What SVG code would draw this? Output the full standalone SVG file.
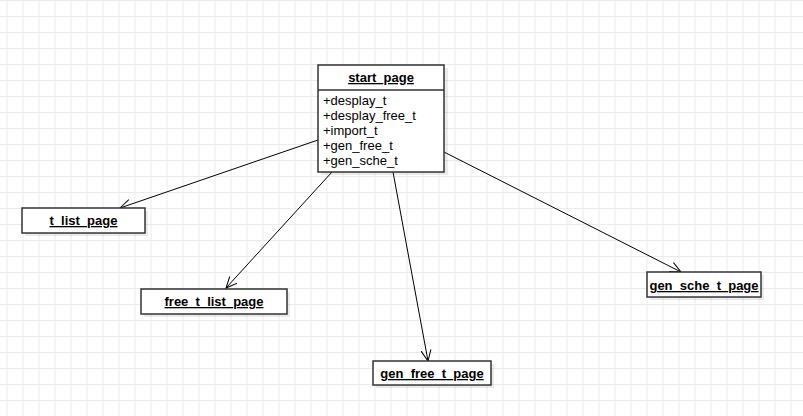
<svg xmlns="http://www.w3.org/2000/svg" width="803" height="416" viewBox="0 0 803 416">
<defs>
<pattern id="grid" x="6.5" y="0" width="16" height="16" patternUnits="userSpaceOnUse">
<path d="M0.5 0 V16 M0 0.5 H16" stroke="#ebebeb" stroke-width="1" fill="none"/>
</pattern>
<marker id="open" viewBox="0 0 12 12" refX="11" refY="6" markerWidth="12" markerHeight="12" markerUnits="userSpaceOnUse" orient="auto">
<path d="M0 1 L11 6 L0 11" fill="none" stroke="#000" stroke-width="1"/>
</marker>
</defs>
<style>
.box{fill:#fff;stroke:#333;stroke-width:1.5}
.shadow{fill:#000;opacity:0.08}
.title{font-family:"Liberation Sans",Arial,sans-serif;font-size:13px;font-weight:bold;text-decoration:underline;fill:#000;text-anchor:middle}
.attr{font-family:"Liberation Sans",Arial,sans-serif;font-size:13px;fill:#000}
.edge{stroke:#000;stroke-width:1;fill:none;marker-end:url(#open)}
</style>
<rect width="803" height="416" fill="#fff"/>
<rect width="803" height="416" fill="url(#grid)"/>
<g id="connectors">
<line class="edge" x1="318" y1="140" x2="120" y2="208"/>
<line class="edge" x1="332" y1="172" x2="226" y2="288"/>
<line class="edge" x1="393" y1="172" x2="428" y2="361"/>
<line class="edge" x1="444" y1="152" x2="681" y2="272"/>
</g>
<g id="start_page">
<rect class="shadow" x="321" y="68" width="127" height="107"/>
<rect class="box" x="318" y="65" width="126" height="107"/>
<line x1="318" y1="90" x2="444" y2="90" stroke="#333" stroke-width="1.5"/>
<text class="title" x="381" y="82">start_page</text>
<text class="attr" x="323" y="105">+desplay_t</text>
<text class="attr" x="323" y="120">+desplay_free_t</text>
<text class="attr" x="323" y="135">+import_t</text>
<text class="attr" x="323" y="150">+gen_free_t</text>
<text class="attr" x="323" y="165">+gen_sche_t</text>
</g>
<g id="t_list_page">
<rect class="shadow" x="25" y="211" width="123" height="25"/>
<rect class="box" x="22" y="208" width="123" height="25"/>
<text class="title" x="83.5" y="225">t_list_page</text>
</g>
<g id="free_t_list_page">
<rect class="shadow" x="144" y="292" width="146" height="25"/>
<rect class="box" x="141" y="289" width="146" height="25"/>
<text class="title" x="214" y="306">free_t_list_page</text>
</g>
<g id="gen_free_t_page">
<rect class="shadow" x="376" y="364" width="118" height="24"/>
<rect class="box" x="373" y="361" width="118" height="24"/>
<text class="title" x="432" y="378">gen_free_t_page</text>
</g>
<g id="gen_sche_t_page">
<rect class="shadow" x="650" y="275" width="114" height="25"/>
<rect class="box" x="647" y="272" width="114" height="25"/>
<text class="title" x="704" y="290">gen_sche_t_page</text>
</g>
</svg>
